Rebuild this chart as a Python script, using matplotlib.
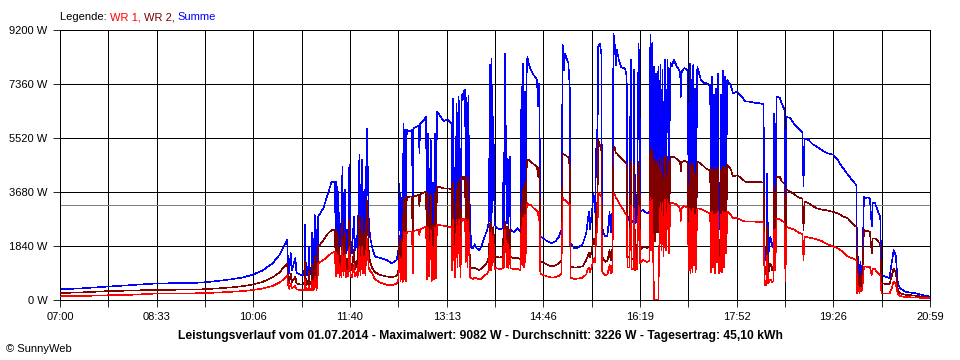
import matplotlib
matplotlib.use('Agg')
import matplotlib.pyplot as plt

plt.rcParams['font.family'] = ['Liberation Sans', 'DejaVu Sans']

# Minuten nach 07:00
minuten = [
    0, 20, 45, 70, 90, 110, 135, 150, 165, 175,
    185, 195, 205, 212, 216, 219, 220, 221, 222.5, 223.5,
    227, 228, 232, 235.5, 236.3, 237.2, 239.2, 240, 240.8, 242.2,
    243, 243.8, 244.8, 245.5, 246.5, 247.3, 248.2, 249, 254, 258.5,
    262, 265, 266, 266.8, 267.6, 268.4, 269.5, 270.5, 271.5, 272.3,
    273.3, 274.9, 275.8, 277, 278, 279, 280, 281.5, 283.5, 284.5,
    286, 287, 288.7, 289.7, 291.3, 292.3, 293.5, 294.5, 295.8, 296.7,
    297.7, 299, 301, 303.8, 308.6, 315, 319.9, 324.7, 326.3, 327.5,
    328.5, 329.5, 330.5, 331.2, 332, 332.8, 333.6, 334.4, 337, 339.5,
    340.2, 341, 344, 346, 346.6, 347.3, 350, 353, 354, 355,
    356, 357.5, 358.5, 359.5, 360.5, 361.5, 362.5, 363.5, 366, 370,
    374, 377.5, 378.2, 379, 380, 381, 382.5, 383.3, 384.2, 385.2,
    386.2, 387.4, 388.3, 389.1, 390.6, 391.4, 392.2, 393, 393.8, 394.6,
    395.4, 396.5, 398, 400, 402, 404, 406, 408, 410, 412,
    413.5, 414.7, 415.5, 416.2, 417, 418, 419, 420, 424, 427,
    427.8, 428.6, 429.3, 430.2, 431, 431.8, 432.5, 433.8, 434.6, 438,
    441, 444, 445, 445.8, 446.6, 447.4, 448.2, 449, 449.8, 450.7,
    452, 454, 456, 458, 460, 461, 461.8, 462.5, 463.2, 466,
    470, 474, 478, 481, 483.5, 484.8, 486.1, 487, 488.7, 490.3,
    491.6, 492.5, 496, 500, 504, 507.5, 509, 510, 511, 513,
    514.5, 516, 517.5, 518.3, 519, 520.6, 522, 522.8, 524, 526,
    528, 530, 531, 532.5, 533.8, 535, 536, 537, 539, 541,
    543, 545, 546.5, 547.2, 549, 550.5, 551.3, 553, 553.7, 554.5,
    556.5, 557.9, 558.8, 559.6, 562, 566, 568.5, 569.3, 570.2, 571,
    572, 573, 574, 575, 576, 577, 578, 579, 580, 581,
    582, 583.4, 584.5, 586, 587.3, 588.6, 590, 592, 595, 598,
    598.8, 599.6, 602, 605, 606.5, 607.3, 608.1, 609, 609.8, 610.6,
    611.4, 612.2, 613, 613.8, 614.6, 618, 621, 624, 627, 627.8,
    628.6, 629.5, 630.5, 631.5, 632.5, 633.5, 634.5, 635.5, 636.5, 637.5,
    638.5, 639.5, 640.5, 641.5, 642.5, 643.5, 647, 649, 653, 657,
    661, 665, 670, 675, 678.5, 679.5, 681, 681.8, 683, 685,
    687, 688, 688.8, 689.8, 691, 694, 696, 698.8, 699.6, 700.5,
    704, 708, 712, 716, 717, 718, 722, 726, 730, 735,
    740, 745.8, 750, 755, 760, 764, 768, 768.8, 770, 771,
    772, 773, 774, 775.3, 777, 779, 781, 782.8, 783.8, 786,
    789, 791, 792.2, 796, 800, 802, 804, 806, 808, 810,
    815, 825, 832, 839,
]

summe = [
    365, 395, 455, 510, 556, 575, 590, 640, 705, 760,
    850, 1000, 1250, 1550, 1850, 2040, 1200, 920, 1600, 1000,
    1430, 920, 860, 860, 2550, 850, 850, 1820, 860, 870,
    2280, 870, 900, 2900, 2670, 900, 1200, 2840, 3130, 3630,
    4030, 4030, 1800, 4030, 2000, 3690, 1700, 2600, 1600, 4540,
    1900, 3750, 1600, 2400, 1700, 4600, 2100, 1600, 2840, 1700,
    2200, 1600, 4940, 2000, 4770, 2200, 3770, 2000, 5850, 4660,
    2800, 2160, 1800, 1475, 1440, 1360, 1250, 1360, 1700, 3975,
    1500, 3500, 1300, 6020, 1700, 5800, 1500, 5800, 5750, 5800,
    2000, 5850, 5900, 5950, 5000, 6000, 6100, 6240, 1500, 5680,
    1800, 5500, 1400, 4000, 1600, 5680, 1700, 6416, 6300, 6100,
    6150, 6000, 2500, 6870, 3500, 1800, 6700, 2500, 6930, 6500,
    1800, 7000, 6800, 7100, 7155, 3000, 6900, 2600, 6950, 4000,
    2840, 1800, 1750, 1900, 1760, 1700, 1800, 2000, 2200, 2400,
    2670, 8000, 2500, 8233, 3000, 6245, 2700, 2490, 2400, 2450,
    5000, 2500, 8405, 4325, 2600, 4800, 2400, 4880, 2400, 2300,
    2450, 2350, 7270, 3000, 8064, 2600, 7100, 3200, 7500, 8290,
    8060, 7840, 7700, 7610, 7500, 6600, 7380, 6300, 2157, 2100,
    2000, 1930, 2000, 2150, 2385, 8688, 7836, 8405, 8233, 8064,
    7212, 1930, 1760, 1790, 1900, 2280, 2725, 3000, 2400, 3000,
    3634, 3000, 5792, 4900, 8632, 8746, 8400, 2500, 2300, 2157,
    2200, 3000, 2300, 2450, 9082, 8700, 8000, 8520, 8180, 7950,
    7900, 7893, 7600, 2700, 2840, 8177, 2650, 2700, 7836, 2613,
    2700, 8746, 7800, 3000, 3066, 2953, 3000, 9030, 4000, 8750,
    3600, 7950, 3520, 7700, 4000, 7950, 3520, 8000, 4200, 7836,
    3600, 8177, 4000, 8177, 3800, 8100, 7950, 8177, 7950, 7780,
    6926, 7780, 7900, 7836, 3000, 8064, 2385, 7500, 2600, 8000,
    3200, 7200, 2500, 5000, 7950, 7500, 7400, 7383, 7300, 2620,
    7600, 3000, 7000, 2500, 7200, 3500, 7723, 2400, 3000, 7000,
    2600, 7800, 3000, 7600, 4000, 7495, 7300, 7040, 7100, 6950,
    6757, 6757, 6720, 6700, 6677, 1363, 1400, 4316, 1476, 2157,
    1800, 2000, 6360, 2500, 6927, 6900, 6700, 6473, 1250, 6245,
    6200, 6000, 5850, 5700, 3862, 5508, 5450, 5300, 5224, 5100,
    5000, 4950, 4770, 4500, 4260, 4080, 3918, 454, 1476, 500,
    1300, 700, 1400, 3520, 3464, 3500, 3464, 2500, 3300, 3300,
    3000, 2840, 852, 800, 750, 1250, 1703, 1500, 580, 398,
    284, 227, 170, 114,
]

wr1 = [
    126, 135, 160, 180, 215, 225, 230, 250, 280, 300,
    335, 390, 480, 600, 720, 820, 500, 380, 560, 390,
    480, 360, 340, 340, 700, 330, 330, 500, 330, 340,
    650, 340, 350, 800, 750, 350, 500, 1250, 1360, 1500,
    1600, 1646, 800, 1600, 900, 1500, 780, 1100, 760, 1800,
    850, 1550, 760, 1000, 800, 1800, 900, 760, 1200, 800,
    950, 780, 1800, 850, 1800, 900, 1500, 850, 2100, 1700,
    1100, 1000, 900, 700, 600, 520, 500, 560, 700, 1500,
    650, 1400, 600, 2330, 700, 2300, 650, 2330, 2330, 2340,
    900, 2350, 2380, 2390, 2200, 2400, 2450, 2500, 700, 2450,
    800, 2400, 650, 1800, 700, 2450, 750, 2550, 2550, 2530,
    2500, 2480, 1000, 2720, 1500, 780, 2720, 1100, 2750, 2700,
    790, 2780, 2700, 2780, 2780, 1300, 2750, 1100, 2750, 1700,
    780, 750, 720, 760, 730, 700, 720, 780, 850, 900,
    1000, 2300, 1000, 2400, 1200, 2200, 1050, 1090, 1050, 1080,
    1800, 1100, 2400, 1800, 1100, 1900, 1080, 1700, 1080, 1050,
    1060, 1020, 2500, 1200, 2800, 1100, 2900, 1300, 3100, 3300,
    3237, 3237, 3150, 3100, 3050, 2900, 3009, 2500, 900, 850,
    800, 760, 780, 820, 900, 3475, 3400, 3400, 3350, 3305,
    3237, 760, 720, 730, 760, 880, 1050, 1100, 950, 1150,
    1400, 1300, 2500, 2300, 3640, 3600, 3520, 1000, 900, 850,
    880, 1200, 900, 965, 3640, 3600, 3500, 3450, 3294, 3200,
    3100, 2953, 2900, 1100, 1100, 3200, 1050, 1060, 3100, 1030,
    1050, 3200, 3000, 1250, 1363, 1300, 1330, 3500, 1700, 3400,
    1500, 0, 0, 0, 0, 0, 2000, 3300, 1700, 3300,
    1500, 3400, 1700, 3400, 1600, 3300, 3300, 3294, 3250, 3100,
    2700, 3150, 3200, 3150, 1000, 3100, 920, 3000, 950, 3100,
    1200, 2900, 950, 2000, 3124, 3100, 3050, 3000, 2953, 950,
    3000, 1100, 2900, 920, 2950, 1300, 3000, 920, 1000, 2900,
    950, 3000, 1100, 2980, 1600, 3010, 2900, 2783, 2790, 2720,
    2668, 2668, 2668, 2660, 2650, 511, 520, 1500, 560, 700,
    600, 650, 2400, 1000, 2783, 2750, 2700, 2650, 650, 2498,
    2450, 2400, 2300, 2250, 1363, 2158, 2130, 2100, 2060, 2000,
    1900, 1817, 1760, 1650, 1476, 1420, 1360, 240, 500, 240,
    400, 300, 500, 1136, 1140, 1130, 1136, 852, 1050, 1050,
    900, 852, 227, 227, 220, 400, 625, 550, 200, 140,
    100, 85, 70, 57,
]

wr2 = [
    238, 258, 300, 325, 341, 350, 360, 390, 430, 465,
    520, 610, 770, 950, 1130, 1230, 720, 560, 900, 610,
    800, 560, 530, 530, 1300, 520, 525, 1000, 530, 540,
    1200, 540, 560, 1500, 1400, 560, 800, 1800, 2040, 2270,
    2385, 2385, 1100, 2400, 1200, 2200, 1050, 1500, 1000, 2700,
    1150, 2300, 1000, 1400, 1050, 2750, 1300, 1000, 1700, 1050,
    1350, 1000, 2900, 1250, 2800, 1300, 2300, 1200, 3400, 2900,
    1700, 1300, 1100, 950, 850, 800, 780, 820, 1000, 2200,
    900, 2100, 850, 3500, 1000, 3450, 900, 3500, 3520, 3520,
    1200, 3520, 3560, 3580, 3180, 3600, 3650, 3700, 950, 3620,
    1100, 3600, 900, 2600, 1000, 3620, 1050, 3860, 3850, 3800,
    3800, 3780, 1500, 4000, 2100, 1050, 4000, 1500, 4100, 3900,
    1050, 4200, 4100, 4200, 4200, 1800, 4150, 1600, 4150, 2400,
    1100, 1100, 1080, 1100, 1050, 1030, 1060, 1120, 1200, 1300,
    1450, 2600, 1400, 2650, 1700, 2500, 1500, 1480, 1450, 1470,
    2500, 1500, 2650, 2400, 1500, 2500, 1460, 2400, 1460, 1420,
    1440, 1400, 3300, 1800, 3800, 1600, 4000, 1900, 4400, 4770,
    4770, 4700, 4650, 4600, 4540, 4200, 4500, 3900, 1300, 1280,
    1200, 1150, 1180, 1250, 1350, 5000, 4950, 4950, 4900, 4850,
    4550, 1150, 1100, 1120, 1150, 1360, 1500, 1600, 1450, 1700,
    2100, 1900, 3300, 3000, 5450, 5300, 5110, 1500, 1400, 1300,
    1330, 1700, 1350, 1430, 5220, 5200, 5000, 5000, 4900, 4830,
    4780, 4700, 4650, 1500, 1450, 4700, 1400, 1420, 4600, 1380,
    1400, 4700, 4500, 1700, 1817, 1780, 1800, 5200, 2300, 5100,
    2100, 4800, 2000, 4700, 2300, 4800, 2100, 4800, 2400, 4800,
    2100, 4880, 2300, 4880, 2200, 4850, 4880, 4883, 4800, 4700,
    4400, 4700, 4750, 4700, 1300, 4650, 1200, 4500, 1300, 4600,
    1700, 4300, 1250, 3000, 4713, 4650, 4550, 4450, 4430, 1300,
    4500, 1500, 4400, 1200, 4450, 1800, 4500, 1150, 1300, 4400,
    1250, 4550, 1500, 4500, 2400, 4600, 4450, 4202, 4250, 4150,
    4030, 4030, 4030, 4020, 4000, 880, 900, 2500, 900, 1250,
    1000, 1150, 3900, 1500, 4200, 4200, 4050, 3950, 800, 3748,
    3700, 3600, 3500, 3450, 2385, 3350, 3300, 3200, 3123, 3080,
    3050, 3000, 2953, 2850, 2780, 2600, 2498, 300, 1000, 300,
    900, 400, 1100, 2385, 2330, 2350, 2330, 1600, 2100, 2100,
    2000, 1900, 568, 550, 530, 800, 1078, 950, 360, 227,
    180, 148, 110, 80,
]

assert len(minuten) == len(summe) == len(wr1) == len(wr2)

durchschnitt = 3226
zeit_labels = ['07:00', '08:33', '10:06', '11:40', '13:13', '14:46',
               '16:19', '17:52', '19:26', '20:59']
y_werte = [0, 1840, 3680, 5520, 7360, 9200]
legende_teile = ['Legende: ', 'WR 1, ', 'WR 2, ', 'Summe']
legende_farben = ['black', '#ff0000', '#800000', '#0000ff']
titel = ('Leistungsverlauf vom 01.07.2014 - Maximalwert: 9082 W - '
         'Durchschnitt: 3226 W - Tagesertrag: 45,10 kWh')

W, H = 960, 360
fig = plt.figure(figsize=(W / 100, H / 100), dpi=100)
ax = fig.add_axes([60 / W, 60 / H, 870 / W, 270 / H])

ende = 839
schritt = ende / 9
ax.set_xlim(0, ende)
ax.set_ylim(0, 9200)
ax.set_xticks([i * schritt for i in range(10)])
ax.set_xticklabels(zeit_labels)
ax.set_xticks([i * schritt / 2 for i in range(19)], minor=True)
ax.set_yticks(y_werte)
ax.set_yticklabels([f'{v} W' for v in y_werte])
lw = 0.6
ax.grid(which='both', axis='x', color='black', lw=lw, zorder=0,
        antialiased=False)
ax.grid(which='major', axis='y', color='black', lw=lw, zorder=0,
        antialiased=False)
ax.set_axisbelow(True)
ax.tick_params(which='both', direction='out', length=5, width=lw,
               colors='black', labelsize=8)
ax.tick_params(axis='x', pad=4)
ax.tick_params(axis='y', pad=4)
for s in ax.spines.values():
    s.set_linewidth(lw)
    s.set_color('black')
    s.set_antialiased(False)

ax.axhline(durchschnitt, color='#808080', lw=lw, zorder=1, antialiased=False)
lw_daten = 0.4
ax.plot(minuten, summe, color='#0000ff', lw=lw_daten, zorder=2, antialiased=False)
ax.plot(minuten, wr2, color='#800000', lw=lw_daten, zorder=3, antialiased=False)
ax.plot(minuten, wr1, color='#ff0000', lw=lw_daten, zorder=4, antialiased=False)

# Legende oben als farbiger Text
renderer = fig.canvas.get_renderer()
x = 60 / W
for teil, farbe in zip(legende_teile, legende_farben):
    t = fig.text(x, 1 - 17 / H, teil, color=farbe, fontsize=8,
                 ha='left', va='center')
    bb = t.get_window_extent(renderer)
    x = bb.x1 / W

fig.text(480 / W, 1 - 336 / H, titel, fontsize=8.75, fontweight='bold',
         ha='center', va='center')
fig.text(6 / W, 1 - 349 / H, '© SunnyWeb', fontsize=8,
         ha='left', va='center')

fig.savefig('out.png', dpi=100)
